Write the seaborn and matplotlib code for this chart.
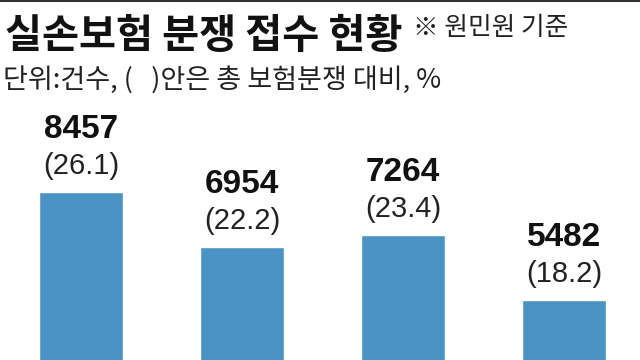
import matplotlib
matplotlib.use("Agg")
import matplotlib.pyplot as plt
import seaborn as sns
import pandas as pd
from matplotlib.lines import Line2D

categories = ["A", "B", "C", "D"]
counts = [8457, 6954, 7264, 5482]
shares = [26.1, 22.2, 23.4, 18.2]

title = "실손보험 분쟁 접수 현황"
note = "※ 원민원 기준"
subtitle = "단위:건수, (   )안은 총 보험분쟁 대비, %"

sns.set_theme(style="white")
plt.rcParams['font.family'] = ['Noto Sans CJK KR', 'DejaVu Sans']

W, H = 640, 360
fig = plt.figure(figsize=(W / 100, H / 100), dpi=100)
fig.patch.set_facecolor("white")

ax = fig.add_axes([0, 0, 1, 1])
df = pd.DataFrame({"cat": categories, "count": counts})
sns.barplot(data=df, x="cat", y="count", color="#4A93C4", saturation=1,
            width=0.52, ax=ax)

k = 0.0363  # px per unit
zero_px = 499
ax.set_ylim((zero_px - H) / k, zero_px / k)
ax.set_xlim(-81 / 161, (W - 81) / 161)
ax.axis("off")

num_font = ['Liberation Sans Narrow', 'Liberation Sans', 'DejaVu Sans']
for i, (c, s) in enumerate(zip(counts, shares)):
    ax.annotate(f"{c}", xy=(i, c), xytext=(0, 54 * 0.72), textcoords="offset points",
                ha="center", va="baseline", fontsize=24, fontweight="bold",
                family=num_font, color="#111111")
    ax.annotate(f"({s})", xy=(i, c), xytext=(0, 18 * 0.72), textcoords="offset points",
                ha="center", va="baseline", fontsize=21,
                family=['Liberation Sans', 'DejaVu Sans'], color="#222222")

fig.text(5 / W, 1 - 36 / H, title, ha="left", va="center", fontsize=29,
         fontweight="bold", color="#111111")
fig.text(413 / W, 1 - 28 / H, note, ha="left", va="center", fontsize=18.5,
         color="#222222")
fig.text(3 / W, 1 - 81 / H, subtitle, ha="left", va="center", fontsize=19.5,
         color="#222222")

fig.add_artist(Line2D([0, 1], [1 - 1 / H, 1 - 1 / H], transform=fig.transFigure,
                      color="#333333", linewidth=1.5))

fig.savefig("out.png", dpi=100, facecolor="white")
